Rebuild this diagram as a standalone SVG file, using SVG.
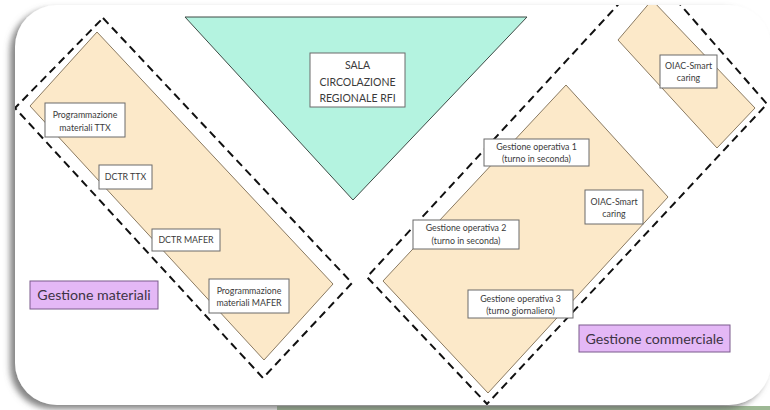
<svg xmlns="http://www.w3.org/2000/svg" width="770" height="410" viewBox="0 0 770 410">
<style>
.lbl{fill:#ffffff;stroke:#6b6b6b;stroke-width:1}
.t{font-family:Lato,"Liberation Sans",sans-serif;font-size:8.8px;fill:#3a3a3a;text-anchor:middle}
.big{font-family:Lato,"Liberation Sans",sans-serif;font-size:14.2px;fill:#3d3444;text-anchor:middle}
.sala{font-family:Lato,"Liberation Sans",sans-serif;font-size:10.5px;fill:#3a3a3a;text-anchor:middle}
.zone{fill:#fce9c9;stroke:#8a7a62;stroke-width:1}
.dash{fill:none;stroke:#111;stroke-width:2;stroke-dasharray:8 5}
.purple{fill:#e4b8f6;stroke:#7b5a8c;stroke-width:1}
</style>
<defs>
<filter id="sh" x="-5%" y="-5%" width="110%" height="115%">
<feDropShadow dx="-5" dy="4" stdDeviation="3" flood-color="#666" flood-opacity="0.8"/>
</filter>
<clipPath id="panel"><rect x="15" y="5" width="756" height="400" rx="42" ry="42"/></clipPath>
</defs>
<rect x="0" y="0" width="770" height="410" fill="#ffffff"/>
<rect x="277" y="406" width="493" height="4" fill="#9db894"/>
<rect id="background" x="15" y="5" width="756" height="400" rx="42" ry="42" fill="#ffffff" filter="url(#sh)"/>
<g clip-path="url(#panel)">
<g id="sala-zone">
<polygon points="185,17 527,17 353,200" fill="#b4f3e0" stroke="#3e4a45" stroke-width="1"/>
</g>
<g id="gestione-materiali-zone">
<polygon class="dash" points="103,18 352,283 263,378 15,108"/>
<polygon class="zone" points="97,32 333,284 264,360 30,106"/>
</g>
<g id="gestione-commerciale-zone">
<polygon class="dash" points="650,-30 767,104 487,404 367,277"/>
<polygon class="zone" points="566,85 668,197 488,393 383,281"/>
<polygon class="zone" points="652,0 755,108 717,148 618,40"/>
</g>
</g>
<g id="sala">
<rect class="lbl" x="310" y="53" width="95" height="54"/>
<text class="sala" x="357.5" y="69">SALA</text>
<text class="sala" x="357.5" y="86">CIRCOLAZIONE</text>
<text class="sala" x="357.5" y="102">REGIONALE RFI</text>
</g>
<g id="prog-ttx">
<rect class="lbl" x="45" y="103" width="80" height="34"/>
<text class="t" x="85" y="118">Programmazione</text>
<text class="t" x="85" y="131">materiali TTX</text>
</g>
<g id="dctr-ttx">
<rect class="lbl" x="99" y="165" width="53" height="24"/>
<text class="t" x="125.5" y="180">DCTR TTX</text>
</g>
<g id="dctr-mafer">
<rect class="lbl" x="152" y="229" width="68" height="22"/>
<text class="t" x="186" y="243">DCTR MAFER</text>
</g>
<g id="prog-mafer">
<rect class="lbl" x="209" y="279" width="80" height="34"/>
<text class="t" x="249" y="294">Programmazione</text>
<text class="t" x="249" y="306">materiali MAFER</text>
</g>
<g id="gestione-materiali">
<rect class="purple" x="30" y="281" width="128" height="28"/>
<text class="big" x="94" y="300">Gestione materiali</text>
</g>
<g id="oiac-top">
<rect class="lbl" x="660" y="55" width="57" height="33"/>
<text class="t" x="688.5" y="69">OIAC-Smart</text>
<text class="t" x="688.5" y="81">caring</text>
</g>
<g id="gestione-op-1">
<rect class="lbl" x="484" y="139" width="105" height="27"/>
<text class="t" x="536.5" y="150">Gestione operativa 1</text>
<text class="t" x="536.5" y="162">(turno in seconda)</text>
</g>
<g id="oiac-mid">
<rect class="lbl" x="585" y="190" width="58" height="34"/>
<text class="t" x="614" y="205">OIAC-Smart</text>
<text class="t" x="614" y="217">caring</text>
</g>
<g id="gestione-op-2">
<rect class="lbl" x="413" y="220" width="106" height="29"/>
<text class="t" x="466" y="231">Gestione operativa 2</text>
<text class="t" x="466" y="244">(turno in seconda)</text>
</g>
<g id="gestione-op-3">
<rect class="lbl" x="468" y="290" width="105" height="28"/>
<text class="t" x="520.5" y="302">Gestione operativa 3</text>
<text class="t" x="520.5" y="314">(turno giornaliero)</text>
</g>
<g id="gestione-commerciale">
<rect class="purple" x="579" y="325" width="151" height="27"/>
<text class="big" x="654.5" y="343.5">Gestione commerciale</text>
</g>
</svg>
